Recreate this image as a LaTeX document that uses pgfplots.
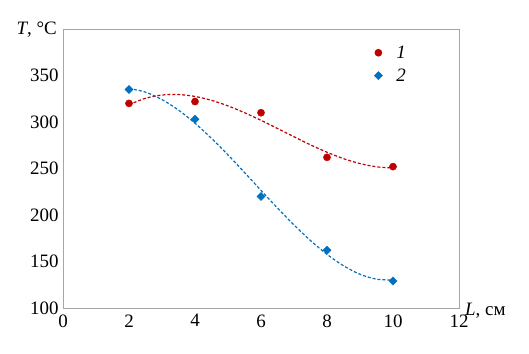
\documentclass[border=0pt]{standalone}
\usepackage{pgfplots}
\pgfplotsset{compat=1.18}
\usepackage{fontspec}
\setmainfont{Liberation Serif}
\definecolor{cred}{HTML}{C00000}
\definecolor{cblue}{HTML}{0070C0}
\begin{document}
\begin{tikzpicture}
\useasboundingbox (-63bp,-46bp) rectangle (466bp,308bp);
\begin{axis}[
  at={(0,0)}, anchor=south west,
  scale only axis, width=396bp, height=279bp,
  xmin=0, xmax=12, ymin=100, ymax=400,
  xtick={0,2,...,12}, ytick={100,150,...,350},
  major tick length=0pt,
  axis line style={gray!70, line width=0.8pt},
  /pgf/number format/assume math mode=true,
  ticklabel style={font=\rmfamily\fontsize{19}{22}\selectfont},
  yticklabel style={xshift=-1bp},
  xticklabel style={yshift=-3bp},
  legend style={draw=none, fill=none, at={(rel axis cs:0.778,0.955)}, anchor=north west,
    font=\rmfamily\fontsize{19}{22}\selectfont\itshape, row sep=5bp},
  legend cell align=left,
  clip=false,
]
% trendlines (cubic fits, sampled)
\addplot[cred, densely dashed, line width=1.2pt, smooth, forget plot] coordinates {
(2,318.6)(2.5,325.5)(3,329.0)(3.5,329.5)(4,327.5)(4.5,323.3)(5,317.3)(5.5,310.0)(6,301.8)
(6.5,293.0)(7,284.1)(7.5,275.4)(8,267.5)(8.5,260.6)(9,255.3)(9.5,251.8)(10,250.6)};
\addplot[cblue, densely dashed, line width=1.2pt, smooth, forget plot] coordinates {
(2,336.1)(2.5,332.1)(3,324.1)(3.5,312.8)(4,298.7)(4.5,282.4)(5,264.6)(5.5,245.7)(6,226.5)
(6.5,207.5)(7,189.3)(7.5,172.5)(8,157.7)(8.5,145.4)(9,136.3)(9.5,131.0)(10,130.1)};
\addplot[only marks, mark=*, mark size=3.6bp, cred, mark options={draw=cred, fill=cred}] coordinates {
(2,320)(4,322)(6,310)(8,262)(10,252)};
\addlegendentry{\hspace*{12bp}1}
\addplot[only marks, mark=square*, mark size=2.9bp, cblue, mark options={draw=cblue, fill=cblue, rotate=45}] coordinates {
(2,335)(4,303)(6,220)(8,162)(10,129)};
\addlegendentry{\hspace*{12bp}2}
\node[anchor=east, font=\rmfamily\fontsize{19}{22}\selectfont, inner sep=0pt] at ([xshift=-6bp,yshift=-1bp]rel axis cs:0,1) {\textit{T}, °C};
\node[anchor=west, font=\rmfamily\fontsize{19}{22}\selectfont, inner sep=0pt] at ([xshift=6bp,yshift=-3bp]rel axis cs:1,0) {\textit{L}, см};
\end{axis}
\end{tikzpicture}
\end{document}
